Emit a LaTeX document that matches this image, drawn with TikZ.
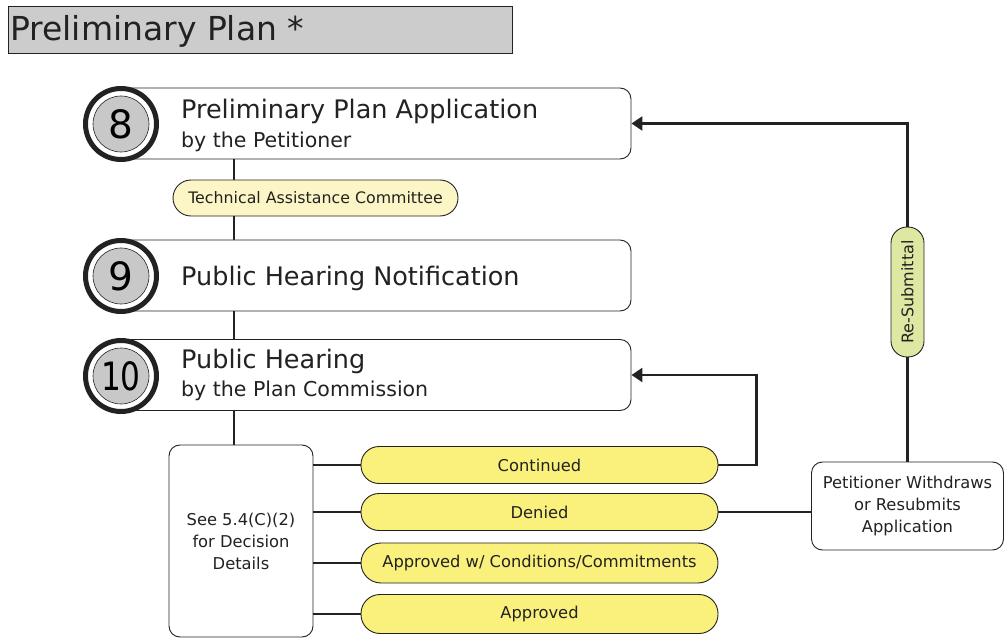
\documentclass[tikz,border=0pt]{standalone}
\usepackage{fontspec}
\setmainfont{DejaVu Sans}
\usetikzlibrary{arrows.meta,backgrounds}
\definecolor{ink}{HTML}{222222}
\definecolor{titlegray}{HTML}{CCCCCC}
\definecolor{ringgray}{HTML}{C8C8C8}
\definecolor{pillyellow}{HTML}{FAF07C}
\definecolor{paleyellow}{HTML}{FCF6C6}
\definecolor{palegreen}{HTML}{DEE8A2}
\tikzset{
  stepbox/.style={draw=ink, line width=0.9pt, rounded corners=11pt, fill=white, minimum height=71pt, minimum width=510pt, inner sep=0pt},
  ring/.style={circle, draw=ink, line width=5pt, fill=white, minimum size=71pt, inner sep=0pt},
  numdisk/.style={circle, draw=ink, line width=0.6pt, fill=ringgray, minimum size=56pt, inner sep=0pt, font=\fontsize{39}{40}\selectfont},
  bigtext/.style={anchor=west, inner sep=0pt, font=\fontsize{25.5}{28}\selectfont, text=ink},
  subtext/.style={anchor=west, inner sep=0pt, font=\fontsize{20.5}{23}\selectfont, text=ink},
  pill/.style={draw=ink, line width=0.9pt, rounded corners=18pt, fill=pillyellow, minimum width=357pt, minimum height=37pt, inner sep=0pt, font=\fontsize{16.3}{18}\selectfont, text=ink},
  conn/.style={draw=ink, line width=2.6pt},
  arr/.style={conn, -{Triangle[length=11pt,width=14pt]}},
  infobox/.style={draw=ink, line width=0.9pt, rounded corners=11pt, fill=white, align=center, inner sep=0pt, font=\fontsize{16.3}{22}\selectfont, text=ink},
}
\begin{document}
\begin{tikzpicture}[x=1pt,y=-1pt]
\useasboundingbox (0,0) rectangle (1005,639);
% title
\node (title) [draw=ink, line width=1pt, fill=titlegray, minimum width=504pt, minimum height=47pt, anchor=north west, inner sep=0pt] at (8,6) {};
\node (titletext) [anchor=west, inner sep=0pt, font=\fontsize{33}{36}\selectfont, text=ink] at (10,31) {Preliminary Plan *};
% step boxes
\node (box8) [stepbox] at (376,123.5) {};
\node (box9) [stepbox] at (376,275.5) {};
\node (box10) [stepbox] at (376,375) {};
\node (t8a) [bigtext] at (181,111) {Preliminary Plan Application};
\node (t8b) [subtext] at (181,142) {by the Petitioner};
\node (t9) [bigtext] at (181,278) {Public Hearing Notification};
\node (t10a) [bigtext] at (181,361) {Public Hearing};
\node (t10b) [subtext] at (181,391) {by the Plan Commission};
% circles
\node (r8) [ring] at (121,124) {};
\node (n8) [numdisk] at (121,124) {8};
\node (r9) [ring] at (121,276) {};
\node (n9) [numdisk] at (121,276) {9};
\node (r10) [ring] at (121,376) {};
\node (n10) [numdisk] at (121,376) {\scalebox{0.8}[1]{10}};
% TAC
\node (tac) [draw=ink, line width=0.9pt, rounded corners=18pt, fill=paleyellow, minimum width=285pt, minimum height=36pt, inner sep=0pt, font=\fontsize{15.8}{18}\selectfont, text=ink] at (315.5,198) {Technical Assistance Committee};
% decision box
\node (dec) [infobox, minimum width=144pt, minimum height=192pt] at (241,541) {See 5.4(C)(2)\\for Decision\\Details};
% pills
\node (cont) [pill] at (539.5,465) {Continued};
\node (den) [pill] at (539.5,512) {Denied};
\node (awc) [pill, minimum height=40pt, rounded corners=20pt] at (539.5,563) {Approved w/ Conditions/Commitments};
\node (appr) [pill, minimum height=39pt, rounded corners=19pt] at (539.5,614) {Approved};
% petitioner box
\node (pet) [infobox, minimum width=192pt, minimum height=88pt] at (907.5,506) {Petitioner Withdraws\\or Resubmits\\Application};
% resubmittal
\node (resub) [draw=ink, line width=0.9pt, rounded corners=16pt, fill=palegreen, minimum width=130pt, minimum height=33pt, inner sep=0pt, rotate=90, font=\fontsize{16}{18}\selectfont, text=ink] at (907.5,292) {Re-Submittal};
% connectors
\coordinate (sp) at (234,0);
\begin{scope}[on background layer]
\draw[conn] (box8.south -| sp) -- (dec.north -| sp);
\end{scope}
\foreach \p in {cont,den,awc,appr} {\draw[conn] (dec.east |- \p.west) -- (\p.west);}
\draw[arr] (cont.east) -- ++(38,0) |- (box10.east);
\draw[conn] (den.east) -- (pet.west |- den.east);
\draw[conn] (pet.north) -- (resub.west);
\draw[arr] (resub.east) |- (box8.east);
\end{tikzpicture}
\end{document}
